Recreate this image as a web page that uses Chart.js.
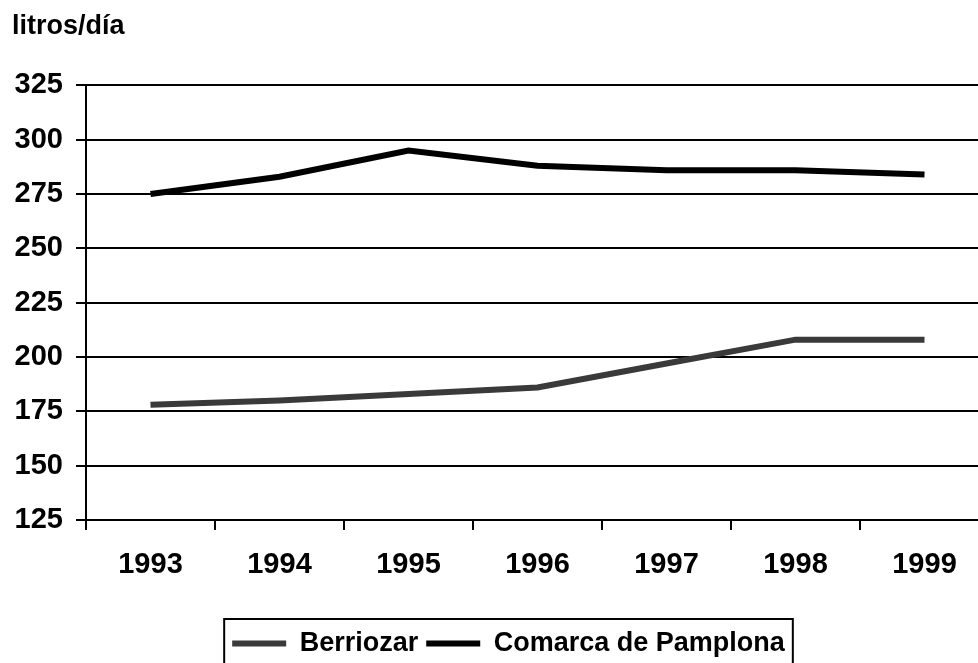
<!DOCTYPE html>
<html lang="es">
<head>
<meta charset="utf-8">
<title>litros/día</title>
<script src="https://cdn.jsdelivr.net/npm/chart.js@4"></script>
<style>
    html, body { margin: 0; padding: 0; background: #fff; overflow: hidden; }
    #grafico { display: block; }
</style>
</head>
<body>
<canvas id="grafico" width="989" height="663"></canvas>
<script>
// Datos (consumo en litros/día)
const anios = ['1993', '1994', '1995', '1996', '1997', '1998', '1999'];
const berriozar = [178, 180, 183, 186, 197, 208, 208];
const comarca = [275, 283, 295, 288, 286, 286, 284];
const ejeY = { min: 125, max: 325, paso: 25 };

const fuente = "'Liberation Sans', Arial, sans-serif";

document.addEventListener('DOMContentLoaded', () => {

    // Mueve la leyenda y le dibuja el recuadro
    const recuadroLeyenda = {
        id: 'recuadroLeyenda',
        afterLayout(chart) {
            const ley = chart.legend;
            ley.left += 8;
            ley.right += 8;
            ley.top += 4;
            ley.bottom += 4;
        },
        afterDraw(chart) {
            const cajas = chart.legend.legendHitBoxes;
            if (!cajas || !cajas.length) return;
            const primera = cajas[0];
            const ultima = cajas[cajas.length - 1];
            const ctx = chart.ctx;
            ctx.save();
            ctx.strokeStyle = '#000';
            ctx.lineWidth = 2;
            ctx.strokeRect(primera.left - 8, primera.top - 11,
                ultima.left + ultima.width + 8 - (primera.left - 8), 80);
            ctx.restore();
        }
    };

    new Chart(document.getElementById('grafico'), {
        type: 'line',
        data: {
            labels: anios,
            datasets: [
                {
                    label: 'Berriozar',
                    data: berriozar,
                    borderColor: '#3a3a3a',
                    backgroundColor: '#3a3a3a',
                    borderWidth: 6,
                    pointRadius: 0,
                    tension: 0
                },
                {
                    label: 'Comarca de Pamplona',
                    data: comarca,
                    borderColor: '#000',
                    backgroundColor: '#000',
                    borderWidth: 6,
                    pointRadius: 0,
                    tension: 0
                }
            ]
        },
        options: {
            responsive: false,
            animation: false,
            layout: { padding: { left: 12, right: 0, top: 0, bottom: 0 } },
            plugins: {
                title: {
                    display: true,
                    text: 'litros/día',
                    align: 'start',
                    color: '#000',
                    font: { family: fuente, size: 27, weight: 'bold' },
                    padding: { top: 10, bottom: 43 }
                },
                legend: {
                    position: 'bottom',
                    labels: {
                        color: '#000',
                        font: { family: fuente, size: 27, weight: 'bold' },
                        usePointStyle: true,
                        pointStyle: 'line',
                        pointStyleWidth: 54,
                        padding: 8
                    }
                },
                tooltip: { enabled: false }
            },
            scales: {
                x: {
                    offset: true,
                    afterFit: (escala) => { escala.height = 98; },
                    grid: {
                        offset: true,
                        drawOnChartArea: false,
                        drawTicks: true,
                        tickLength: 10,
                        color: '#000',
                        lineWidth: 2
                    },
                    border: { display: true, color: '#000', width: 2 },
                    ticks: {
                        color: '#000',
                        padding: 18,
                        maxRotation: 0,
                        font: { family: fuente, size: 29, weight: 'bold' }
                    }
                },
                y: {
                    min: ejeY.min,
                    max: ejeY.max,
                    afterFit: (escala) => { escala.width = 74; },
                    grid: {
                        color: '#000',
                        lineWidth: 2,
                        tickLength: 10
                    },
                    border: { display: true, color: '#000', width: 2 },
                    ticks: {
                        stepSize: ejeY.paso,
                        color: '#000',
                        padding: 13,
                        font: { family: fuente, size: 29, weight: 'bold' }
                    }
                }
            }
        },
        plugins: [recuadroLeyenda]
    });
});
</script>
</body>
</html>
